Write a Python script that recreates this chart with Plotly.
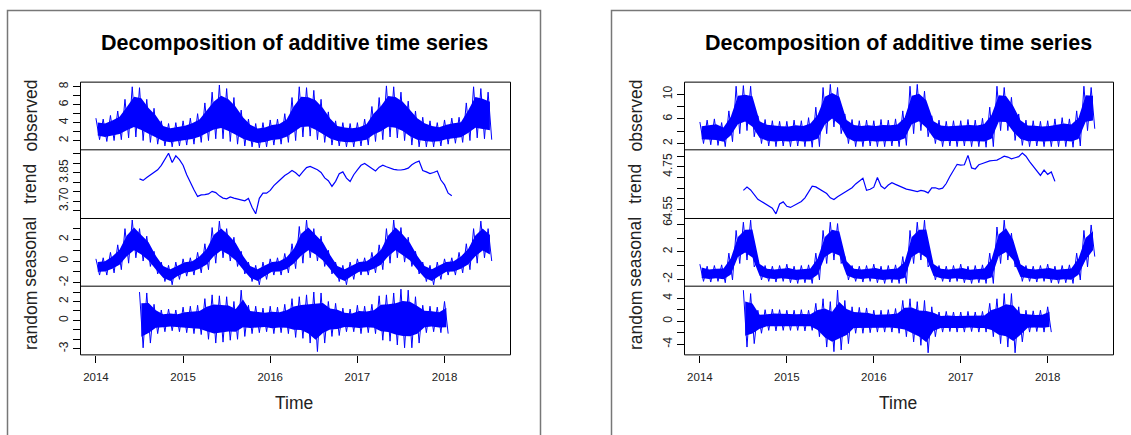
import plotly.graph_objects as go

# ---------------------------------------------------------------------------
# Daily series shown as monthly extremes (high / low within each month).
# Two stations, each decomposed into observed / trend / seasonal / random.
# ---------------------------------------------------------------------------
SERIES_START = 2014.0        # first month of observed & seasonal (Jan 2014)
RANDOM_START = 2014.5        # first month of random component (Jul 2014)
TREND_START = 2014.5         # trend sampled every half month
TREND_STEP = 1 / 24
YEARS = [2014, 2015, 2016, 2017, 2018]

# ---- station A --------------------------------------------------------------
a_observed_hi = [4.5, 4.4, 4.8, 5.3, 6.6, 8.0, 7.9, 6.6, 5.6, 4.2, 3.9, 4.0,
                 4.2, 4.5, 5.0, 6.2, 7.4, 8.2, 7.8, 6.8, 5.4, 4.4, 3.9, 4.0,
                 4.3, 4.4, 5.0, 6.8, 8.0, 7.9, 7.6, 6.6, 5.2, 4.2, 4.0, 3.9,
                 4.0, 4.4, 5.8, 6.8, 8.1, 8.0, 7.4, 6.4, 5.3, 4.6, 4.2, 4.0,
                 4.3, 4.5, 4.6, 6.2, 8.0, 7.8, 7.4]
a_observed_lo = [2.1, 1.9, 2.0, 2.1, 2.3, 2.4, 2.0, 1.8, 1.6, 1.4, 1.3, 1.4,
                 1.5, 1.6, 1.8, 2.0, 2.2, 2.2, 1.9, 1.6, 1.4, 1.3, 1.2, 1.3,
                 1.5, 1.6, 1.8, 2.0, 2.4, 2.5, 2.1, 1.8, 1.5, 1.4, 1.3, 1.3,
                 1.4, 1.5, 1.9, 2.1, 2.4, 2.3, 2.0, 1.5, 1.3, 1.3, 1.3, 1.4,
                 1.6, 1.7, 1.8, 2.0, 2.3, 2.2, 2.1]

a_trend = [3.818, 3.810, 3.825, 3.838, 3.852, 3.866, 3.890, 3.925, 3.954, 3.905,
           3.940, 3.920, 3.890, 3.840, 3.795, 3.760, 3.725, 3.733, 3.735, 3.738,
           3.752, 3.745, 3.728, 3.716, 3.712, 3.722, 3.716, 3.712, 3.705, 3.702,
           3.714, 3.668, 3.633, 3.715, 3.742, 3.742, 3.757, 3.782, 3.800, 3.820,
           3.836, 3.848, 3.862, 3.850, 3.832, 3.856, 3.878, 3.884, 3.877, 3.866,
           3.852, 3.823, 3.808, 3.778, 3.805, 3.845, 3.855, 3.822, 3.804, 3.840,
           3.866, 3.890, 3.900, 3.888, 3.872, 3.860, 3.880, 3.890, 3.882, 3.874,
           3.868, 3.866, 3.865, 3.868, 3.875, 3.893, 3.905, 3.912, 3.862, 3.855,
           3.846, 3.852, 3.860, 3.812, 3.786, 3.742, 3.728]

a_seasonal_hi = [0.2, 0.3, 0.8, 1.5, 3.0, 3.8, 3.0, 2.3, 0.9, -0.1, -0.4, -0.1,
                 0.2, 0.3, 0.8, 1.6, 3.1, 3.7, 3.0, 2.2, 0.9, -0.1, -0.4, -0.1,
                 0.2, 0.3, 0.7, 1.6, 3.2, 3.8, 3.0, 2.3, 1.0, -0.1, -0.4, -0.1,
                 0.2, 0.3, 0.8, 1.5, 3.0, 3.8, 3.1, 2.2, 0.9, -0.1, -0.4, -0.1,
                 0.2, 0.3, 0.8, 1.6, 3.0, 3.7, 3.0]
a_seasonal_lo = [-1.3, -1.3, -1.1, -0.8, -0.2, 0.3, 0.0, -0.5, -1.2, -1.9, -2.2, -1.7,
                 -1.4, -1.3, -1.1, -0.8, -0.2, 0.3, 0.0, -0.5, -1.2, -1.9, -2.2, -1.7,
                 -1.3, -1.3, -1.1, -0.7, -0.2, 0.3, 0.0, -0.5, -1.2, -1.9, -2.2, -1.7,
                 -1.3, -1.3, -1.1, -0.8, -0.2, 0.3, -0.1, -0.5, -1.2, -1.9, -2.2, -1.7,
                 -1.3, -1.3, -1.1, -0.8, -0.2, 0.3, 0.0]

a_random_hi = [3.0, 2.9, 1.7, 1.1, 1.2, 1.1,
               1.4, 1.5, 1.6, 2.3, 2.7, 2.6, 2.5, 2.0, 3.2, 1.6, 1.5, 1.3,
               1.5, 1.4, 1.7, 2.3, 2.5, 2.7, 3.0, 2.9, 2.0, 1.8, 1.3, 1.2,
               1.6, 1.5, 1.7, 2.6, 2.7, 2.9, 3.3, 3.2, 2.5, 1.6, 1.5, 1.4,
               2.0]
a_random_lo = [-2.9, -2.4, -1.4, -1.2, -1.1, -1.2,
               -1.3, -1.4, -1.5, -2.0, -2.4, -2.3, -2.1, -2.0, -1.7, -1.4, -1.3, -1.2,
               -1.4, -1.3, -1.4, -1.8, -1.9, -2.4, -3.3, -2.4, -1.7, -1.6, -1.2, -1.2,
               -1.4, -1.3, -1.4, -2.1, -2.2, -2.6, -2.9, -2.9, -2.4, -1.3, -1.2, -1.3,
               -1.4]

# ---- station B --------------------------------------------------------------
b_observed_hi = [5.5, 5.8, 6.0, 5.4, 7.3, 11.3, 11.4, 11.3, 6.5, 5.9, 5.7, 5.6,
                 5.6, 5.8, 5.7, 6.2, 7.9, 11.1, 11.6, 11.1, 6.8, 5.9, 5.7, 5.8,
                 5.7, 5.9, 5.8, 6.0, 7.3, 11.3, 11.6, 10.5, 6.5, 5.8, 5.6, 5.7,
                 5.7, 5.9, 5.8, 6.1, 7.9, 11.3, 11.1, 9.5, 6.8, 5.8, 5.7, 5.6,
                 5.7, 6.0, 6.2, 6.0, 7.3, 11.3, 11.1]
b_observed_lo = [2.0, 1.8, 1.7, 1.5, 2.3, 3.6, 4.1, 3.1, 2.0, 1.6, 1.5, 1.6,
                 1.5, 1.6, 1.5, 1.4, 1.5, 3.6, 4.7, 3.6, 2.0, 1.5, 1.5, 1.6,
                 1.5, 1.5, 1.6, 1.5, 1.7, 3.6, 4.1, 3.1, 2.0, 1.5, 1.6, 1.5,
                 1.6, 1.5, 1.5, 1.4, 1.5, 4.1, 4.1, 2.5, 1.7, 1.5, 1.6, 1.5,
                 1.5, 1.5, 1.5, 1.4, 1.6, 4.1, 4.4]

b_trend = [4.640, 4.655, 4.642, 4.618, 4.598, 4.588, 4.578, 4.566, 4.556, 4.530,
           4.576, 4.586, 4.565, 4.560, 4.570, 4.578, 4.588, 4.605, 4.635, 4.660,
           4.656, 4.646, 4.638, 4.625, 4.605, 4.597, 4.610, 4.620, 4.630, 4.638,
           4.652, 4.670, 4.682, 4.697, 4.640, 4.645, 4.655, 4.700, 4.660, 4.648,
           4.665, 4.676, 4.668, 4.660, 4.651, 4.646, 4.642, 4.638, 4.634, 4.640,
           4.636, 4.628, 4.652, 4.652, 4.646, 4.650, 4.672, 4.705, 4.736, 4.762,
           4.758, 4.760, 4.804, 4.745, 4.740, 4.760, 4.766, 4.772, 4.778, 4.780,
           4.782, 4.790, 4.800, 4.796, 4.788, 4.793, 4.798, 4.815, 4.800, 4.775,
           4.752, 4.728, 4.710, 4.735, 4.715, 4.726, 4.682]

b_seasonal_hi = [0.2, -0.1, 0.0, 0.1, 1.8, 5.1, 6.3, 6.6, 0.8, 0.0, -0.1, 0.0,
                 0.2, -0.1, 0.0, 0.1, 1.8, 5.1, 6.3, 6.1, 1.3, 0.0, -0.1, 0.0,
                 0.2, -0.1, 0.0, 0.1, 1.3, 5.1, 6.3, 6.6, 0.8, 0.0, -0.1, 0.0,
                 0.2, -0.1, 0.0, 0.1, 1.8, 5.6, 6.6, 4.7, 0.8, 0.0, -0.1, 0.0,
                 0.2, -0.1, 0.0, 0.1, 1.8, 5.1, 5.9]
b_seasonal_lo = [-2.3, -2.4, -2.3, -2.5, -2.1, 0.3, 0.8, -0.2, -2.1, -2.3, -2.4, -2.3,
                 -2.5, -2.6, -2.5, -2.6, -2.1, 0.3, 0.8, 0.3, -2.1, -2.3, -2.4, -2.3,
                 -2.5, -2.6, -2.5, -2.6, -2.6, 0.3, 0.8, -0.2, -2.1, -2.3, -2.4, -2.3,
                 -2.5, -2.6, -2.5, -2.6, -2.6, 0.3, 0.8, -0.2, -2.3, -2.3, -2.4, -2.3,
                 -2.5, -2.6, -2.5, -2.6, -2.1, -0.2, 1.3]

b_random_hi = [5.4, 4.8, 1.9, 2.0, 2.1, 2.0,
               1.9, 1.9, 2.0, 1.9, 3.1, 3.9, 3.4, 5.4, 3.6, 2.5, 2.4, 2.3,
               1.9, 1.9, 2.0, 2.2, 3.6, 3.9, 3.4, 3.6, 2.5, 1.6, 1.7, 1.6,
               1.6, 1.7, 1.6, 1.7, 3.1, 3.9, 4.8, 4.8, 2.5, 1.9, 1.8, 1.9,
               2.5]
b_random_lo = [-4.5, -3.9, -2.1, -1.6, -1.7, -1.6,
               -1.6, -1.6, -1.7, -1.6, -2.7, -4.5, -5.3, -5.0, -3.9, -2.1, -2.1, -2.0,
               -1.9, -1.9, -1.9, -2.1, -2.7, -3.6, -4.2, -5.5, -2.7, -1.9, -1.8, -1.9,
               -1.9, -1.8, -1.9, -1.9, -2.7, -3.9, -4.5, -5.5, -3.6, -1.9, -1.8, -1.9,
               -1.9]

# ---- axis ranges and ticks --------------------------------------------------
X_RANGE = [2013.823, 2018.757]

a_ranges = [[0.97, 8.52], [3.608, 3.972], [-2.33, 3.94], [-3.65, 3.62]]
a_tickvals = [[2, 3, 4, 5, 6, 7, 8],
              [3.65, 3.70, 3.75, 3.80, 3.85, 3.90, 3.95],
              [-2, -1, 0, 1, 2, 3],
              [-3, -2, -1, 0, 1, 2, 3]]
a_ticktext = [["2", "", "4", "", "6", "", "8"],
              ["", "3.70", "", "", "3.85", "", ""],
              ["-2", "", "0", "", "2", ""],
              ["-3", "", "", "0", "", "2", ""]]

b_ranges = [[0.98, 11.97], [4.508, 4.830], [-3.0, 6.84], [-5.86, 6.09]]
b_tickvals = [[2, 4, 6, 8, 10],
              [4.55, 4.60, 4.65, 4.70, 4.75, 4.80],
              [-2, 0, 2, 4, 6],
              [-4, -2, 0, 2, 4]]
b_ticktext = [["2", "", "6", "", "10"],
              ["4.55", "", "", "", "4.75", ""],
              ["-2", "", "2", "", "6"],
              ["-4", "", "0", "", "4"]]

COMPONENTS = ["observed", "trend", "seasonal", "random"]
TITLE = "Decomposition of additive time series"

# ---- page geometry (pixels) -------------------------------------------------
W, H = 1131, 435
PANEL_EDGES = [81.5, 149.5, 218.5, 286.5, 355.5]      # top → bottom
A_PLOT_X = (80.5, 510.5)
B_PLOT_X = (684.5, 1113.5)
LINE_BLUE = "#0000ff"
CORE_SHARE = 0.6             # share of the monthly range drawn as solid core
FONT = "Arial, Liberation Sans, sans-serif"


def zigzag(start, hi, lo):
    """Alternate monthly highs and lows so the band reads as dense daily noise."""
    xs, ys = [], []
    for i, (h, l) in enumerate(zip(hi, lo)):
        xs += [start + i / 12, start + (i + 0.5) / 12]
        ys += [h, l]
    return xs, ys


def core_band(start, hi, lo):
    """Closed polygon for the dense middle part of each month's range."""
    n = len(hi)
    mids = [(h + l) / 2 for h, l in zip(hi, lo)]
    half = [(h - l) / 2 * CORE_SHARE for h, l in zip(hi, lo)]
    xs = [start + (i + 0.25) / 12 for i in range(n)]
    top = [m + d for m, d in zip(mids, half)]
    bot = [m - d for m, d in zip(mids, half)]
    return xs + xs[::-1] + [xs[0]], top + bot[::-1] + [top[0]]


def px_x(p):
    return p / W


def px_y(p):
    return 1 - p / H


fig = go.Figure()

stations = [
    dict(plot_x=A_PLOT_X, ranges=a_ranges, tickvals=a_tickvals, ticktext=a_ticktext,
         obs=(a_observed_hi, a_observed_lo), trend=a_trend,
         seas=(a_seasonal_hi, a_seasonal_lo), rand=(a_random_hi, a_random_lo),
         label_x=30.5, title_x=294.3, time_x=294.3),
    dict(plot_x=B_PLOT_X, ranges=b_ranges, tickvals=b_tickvals, ticktext=b_ticktext,
         obs=(b_observed_hi, b_observed_lo), trend=b_trend,
         seas=(b_seasonal_hi, b_seasonal_lo), rand=(b_random_hi, b_random_lo),
         label_x=635.5, title_x=898.4, time_x=898.4),
]

layout_axes = {}
annotations = []
shapes = []

for s_idx, st in enumerate(stations):
    x0, x1 = st["plot_x"]
    for p in range(4):
        n = s_idx * 4 + p + 1
        xa = "x" if n == 1 else f"x{n}"
        ya = "y" if n == 1 else f"y{n}"
        xkey = "xaxis" if n == 1 else f"xaxis{n}"
        ykey = "yaxis" if n == 1 else f"yaxis{n}"

        if p == 1:
            xs = [TREND_START + i * TREND_STEP for i in range(len(st["trend"]))]
            fig.add_trace(go.Scatter(
                x=xs, y=st["trend"], xaxis=xa, yaxis=ya, mode="lines",
                line=dict(color=LINE_BLUE, width=1.2),
                hoverinfo="skip", showlegend=False,
            ))
        else:
            start = RANDOM_START if p == 3 else SERIES_START
            hi, lo = st[["obs", None, "seas", "rand"][p]]
            bx, by = core_band(start, hi, lo)
            fig.add_trace(go.Scatter(
                x=bx, y=by, xaxis=xa, yaxis=ya, mode="lines", fill="toself",
                fillcolor=LINE_BLUE, line=dict(width=0),
                hoverinfo="skip", showlegend=False,
            ))
            zx, zy = zigzag(start, hi, lo)
            fig.add_trace(go.Scatter(
                x=zx, y=zy, xaxis=xa, yaxis=ya, mode="lines",
                line=dict(color=LINE_BLUE, width=1),
                hoverinfo="skip", showlegend=False,
            ))

        top, bottom = PANEL_EDGES[p], PANEL_EDGES[p + 1]
        bottom_panel = p == 3
        layout_axes[xkey] = dict(
            domain=[px_x(x0), px_x(x1)],
            anchor=ya, range=X_RANGE,
            showline=False, showgrid=False, zeroline=False,
            tickvals=YEARS if bottom_panel else [],
            ticktext=[str(v) for v in YEARS] if bottom_panel else [],
            ticks="outside" if bottom_panel else "",
            ticklen=7, tickcolor="black", ticklabelstandoff=4,
            showticklabels=bottom_panel,
            tickfont=dict(family=FONT, size=11.5, color="#222"),
        )
        layout_axes[ykey] = dict(
            domain=[px_y(bottom), px_y(top)],
            anchor=xa, range=st["ranges"][p],
            showline=False, showgrid=False, zeroline=False,
            tickvals=st["tickvals"][p], ticktext=st["ticktext"][p],
            ticks="outside", ticklen=7, tickcolor="black",
            tickangle=-90,
            tickfont=dict(family=FONT, size=12, color="#222"),
        )

        annotations.append(dict(
            x=px_x(st["label_x"]), y=px_y((top + bottom) / 2),
            xref="paper", yref="paper", text=COMPONENTS[p], showarrow=False,
            textangle=-90, xanchor="center", yanchor="middle",
            font=dict(family=FONT, size=17.5, color="#222"),
        ))

    # panel frame: outer box plus separators between components
    shapes.append(dict(type="rect", xref="paper", yref="paper",
                       x0=px_x(x0), x1=px_x(x1),
                       y0=px_y(PANEL_EDGES[-1]), y1=px_y(PANEL_EDGES[0]),
                       line=dict(color="black", width=1)))
    for edge in PANEL_EDGES[1:-1]:
        shapes.append(dict(type="line", xref="paper", yref="paper",
                           x0=px_x(x0), x1=px_x(x1), y0=px_y(edge), y1=px_y(edge),
                           line=dict(color="black", width=1)))

    annotations.append(dict(
        x=px_x(st["title_x"]), y=px_y(42), xref="paper", yref="paper",
        text=f"<b>{TITLE}</b>", showarrow=False, xanchor="center", yanchor="middle",
        font=dict(family=FONT, size=21.5, color="black"),
    ))
    annotations.append(dict(
        x=px_x(st["time_x"]), y=px_y(404), xref="paper", yref="paper",
        text="Time", showarrow=False, xanchor="center", yanchor="middle",
        font=dict(family=FONT, size=17.5, color="#222"),
    ))

# outer frames around each figure
shapes += [
    dict(type="rect", xref="paper", yref="paper",
         x0=px_x(7.5), x1=px_x(540.5), y0=-0.05, y1=px_y(9.5),
         line=dict(color="#777", width=1.5)),
    dict(type="rect", xref="paper", yref="paper",
         x0=px_x(611.5), x1=1.05, y0=-0.05, y1=px_y(9.5),
         line=dict(color="#777", width=1.5)),
]

fig.update_layout(
    width=W, height=H, margin=dict(l=0, r=0, t=0, b=0),
    paper_bgcolor="white", plot_bgcolor="white",
    annotations=annotations, shapes=shapes, showlegend=False,
    **layout_axes,
)

fig.write_html("out.html")
